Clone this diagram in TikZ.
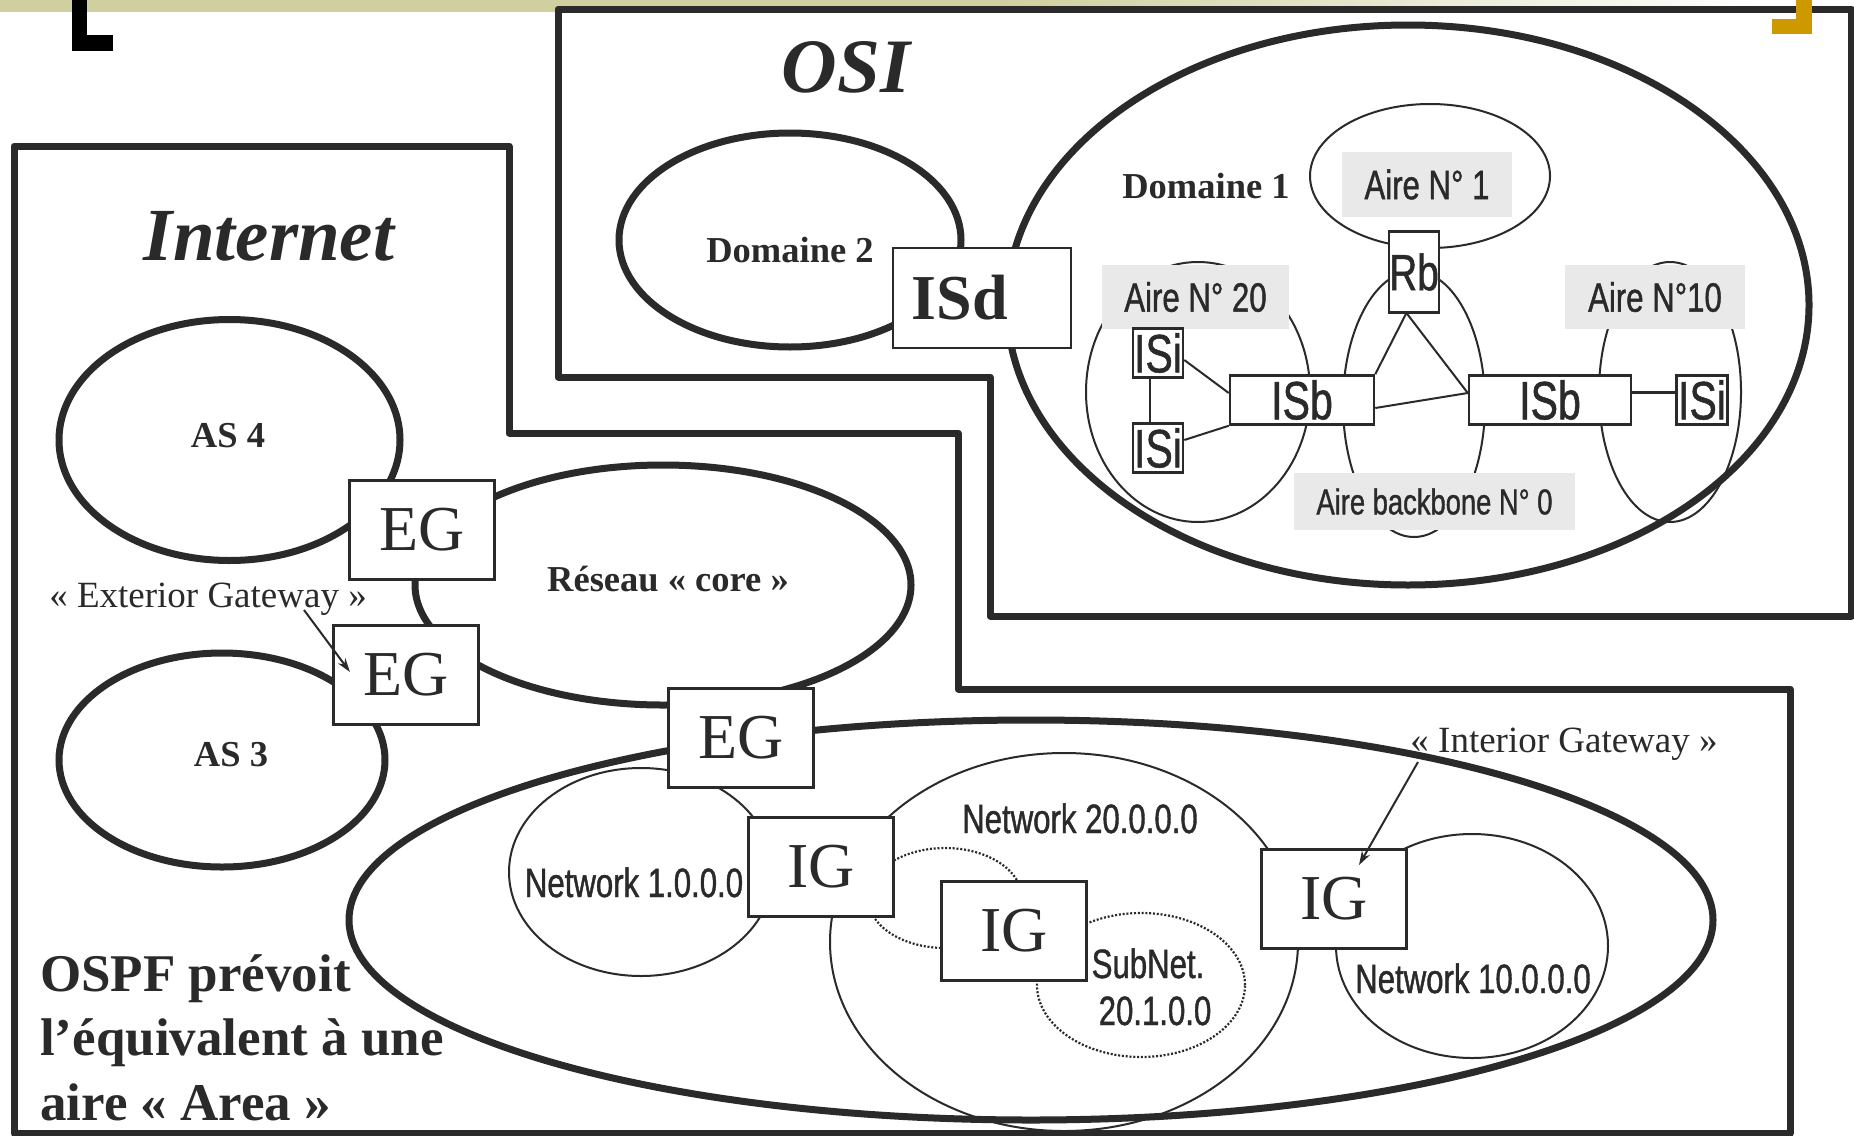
\documentclass[tikz,border=0pt]{standalone}
\usepackage{fontspec}
\setmainfont{Liberation Serif}
\newfontfamily\nsans[FakeStretch=0.76,FakeBold=1]{Liberation Sans}
\usetikzlibrary{arrows.meta,calc}
\definecolor{ink}{HTML}{2A2A2A}
\definecolor{hdr}{HTML}{CFCF9F}
\definecolor{goldc}{HTML}{CC9900}
\definecolor{lbl}{HTML}{E9E9E9}
\tikzset{
  frame/.style={draw=ink, line width=7pt, line join=round},
  bigell/.style={draw=ink, line width=7pt},
  thinell/.style={draw=ink, line width=2pt},
  dotell/.style={draw=ink, line width=2.2pt, dash pattern=on 2pt off 1.8pt},
  gw/.style={draw=ink, fill=white, line width=3pt, minimum width=145pt, minimum height=99pt, inner sep=0pt, text=ink, font=\fontsize{64}{64}\selectfont},
  isbox/.style={draw=ink, fill=white, line width=2.5pt, inner sep=0pt, text=ink, font=\nsans\fontsize{54}{54}\selectfont},
  grey/.style={fill=lbl, inner sep=0pt, text=ink, font=\nsans\fontsize{41}{41}\selectfont},
  net/.style={inner sep=0pt, text=ink, anchor=base, font=\nsans\fontsize{41}{41}\selectfont},
  bold36/.style={inner sep=0pt, text=ink, anchor=base, font=\bfseries\fontsize{36.5}{36.5}\selectfont},
  reg37/.style={inner sep=0pt, text=ink, anchor=base, font=\fontsize{37}{37}\selectfont},
  titlefont/.style={inner sep=0pt, text=ink, anchor=base, font=\bfseries\itshape\fontsize{77}{77}\selectfont},
  ospf/.style={inner sep=0pt, text=ink, anchor=base west, font=\bfseries\fontsize{53}{53}\selectfont},
  conn/.style={draw=ink, line width=2pt},
  ptr/.style={draw=ink, line width=2pt, -{Stealth[length=14pt,width=9pt]}},
}
\begin{document}
\begin{tikzpicture}[x=1pt,y=-1pt]
\useasboundingbox (0,0) rectangle (1854,1135);
\fill[white] (0,0) rectangle (1854,1135);
% header band
\fill[hdr] (0,0) rectangle (1000,12);
\shade[left color=hdr, right color=white] (999,0) rectangle (1760,12);
\fill[black] (72,0) rectangle (87,51);
\fill[black] (72,35) rectangle (113,51);

% outer frames
\draw[frame] (558,9) -- (1851,9) -- (1851,616) -- (990,616) -- (990,377) -- (558,377) -- cycle;
\draw[frame] (14,146) -- (509,146) -- (509,433) -- (958,433) -- (958,689) -- (1790,689) -- (1790,1133) -- (14,1133) -- cycle;
\fill[goldc] (1796,0) rectangle (1812,34);
\fill[goldc] (1772,19) rectangle (1812,34);

% titles
\node[titlefont] (osi) at (846,92) {OSI};
\node[titlefont, font=\bfseries\itshape\fontsize{75}{75}\selectfont] (internet) at (269,260) {Internet};

% ---------- OSI part ----------
\draw[bigell] (790,240) ellipse [x radius=171pt, y radius=107pt];
\draw[bigell] (1408,305) ellipse [x radius=401pt, y radius=280pt];
\draw[thinell] (1430,176) ellipse [x radius=120pt, y radius=72pt];
\draw[thinell] (1198,392) ellipse [x radius=112pt, y radius=130pt];
\draw[thinell] (1414,404) ellipse [x radius=71pt, y radius=133pt];
\draw[thinell] (1670,392) ellipse [x radius=71pt, y radius=130pt];

\node[bold36] (dom2) at (790,262) {Domaine 2};
\node[bold36] (dom1) at (1206,198) {Domaine 1};

\node[grey, minimum width=170pt, minimum height=65pt] (a1) at (1427,184.5) {Aire N° 1};
\node[grey, minimum width=187pt, minimum height=64pt] (a20) at (1195.5,297) {Aire N° 20};
\node[grey, minimum width=180pt, minimum height=64pt] (a10) at (1655,297) {Aire N°10};
\node[grey, minimum width=281pt, minimum height=57pt, font=\nsans\fontsize{36}{36}\selectfont] (a0) at (1434.5,501.5) {Aire backbone N° 0};

\node[isbox, minimum width=178pt, minimum height=100pt, font=\bfseries\fontsize{64}{64}\selectfont] (isd) at (982,298) {ISd\kern44pt};
\node[isbox, minimum width=50pt, minimum height=81pt, font=\nsans\fontsize{51}{51}\selectfont] (rb) at (1414,272) {Rb};
\node[isbox, minimum width=144pt, minimum height=49pt] (isb1) at (1302,400) {ISb};
\node[isbox, minimum width=162pt, minimum height=49pt] (isb2) at (1550,400) {ISb};
\node[isbox, minimum width=50pt, minimum height=49pt] (isi1) at (1158,353) {ISi};
\node[isbox, minimum width=50pt, minimum height=49pt] (isi2) at (1158,448) {ISi};
\node[isbox, minimum width=51pt, minimum height=49pt] (isi3) at (1702,400) {ISi};

\draw[conn] ([yshift=-7pt]isi1.east) -- ([yshift=7pt]isb1.west);
\draw[conn] ([xshift=-8pt]isi1.south) -- ([xshift=-8pt]isi2.north);
\draw[conn] ([yshift=8pt]isi2.east) -- (isb1.south west);
\draw[conn] (isb1.north east) -- ([xshift=-8pt]rb.south);
\draw[conn] ([xshift=-7pt]rb.south) -- ([yshift=7pt]isb2.west);
\draw[conn] ([yshift=-8pt]isb1.east) -- ([yshift=7pt]isb2.west);
\draw[conn, line width=3pt] ([yshift=8pt]isb2.east) -- ([yshift=8pt]isi3.west);

% ---------- Internet part ----------
\draw[bigell] (229.5,440) ellipse [x radius=170.5pt, y radius=120.5pt];
\draw[bigell] (222,760) ellipse [x radius=163pt, y radius=107pt];
\draw[bigell] (663,585) ellipse [x radius=248pt, y radius=120pt];
\draw[bigell] (1031,920) ellipse [x radius=682pt, y radius=200pt];
\draw[thinell] (641,872) ellipse [x radius=132pt, y radius=104pt];
\draw[thinell] (1064,942) ellipse [x radius=234pt, y radius=189pt];
\draw[thinell] (1472,946) ellipse [x radius=136pt, y radius=112pt];
\draw[dotell] (945,898) ellipse [x radius=77pt, y radius=50pt];
\draw[dotell] (1141,985) ellipse [x radius=104pt, y radius=72pt];

\node[bold36] (as4) at (228,447) {AS 4};
\node[bold36] (as3) at (231,766) {AS 3};
\node[bold36] (core) at (668,591) {Réseau « core »};
\node[reg37] (ext) at (208,607) {« Exterior Gateway »};
\node[reg37] (int) at (1564,752) {« Interior Gateway »};

\node[net] (n1) at (634,897) {Network 1.0.0.0};
\node[net] (n20) at (1080,833) {Network 20.0.0.0};
\node[net] (n10) at (1473,993) {Network 10.0.0.0};
\node[net] (sub1) at (1148,978) {SubNet.};
\node[net] (sub2) at (1155,1025) {20.1.0.0};

\node[gw] (eg1) at (422,530) {EG};
\node[gw] (eg2) at (406,675) {EG};
\node[gw] (eg3) at (741,738) {EG};
\node[gw] (ig1) at (821,867) {IG};
\node[gw] (ig2) at (1014,931) {IG};
\node[gw] (ig3) at (1334,899) {IG};

\coordinate (extail) at (304,610);
\draw[ptr] (extail) -- ([xshift=-56pt,yshift=3pt]eg2.center);
\coordinate (intail) at (1418,762);
\draw[ptr] (intail) -- ([xshift=25pt,yshift=34pt]ig3.center);

\node[ospf] (ospf1) at (40,991) {OSPF prévoit};
\node[ospf] (ospf2) at (40,1055) {l’équivalent à une};
\node[ospf] (ospf3) at (40,1120) {aire « Area »};
\end{tikzpicture}
\end{document}
